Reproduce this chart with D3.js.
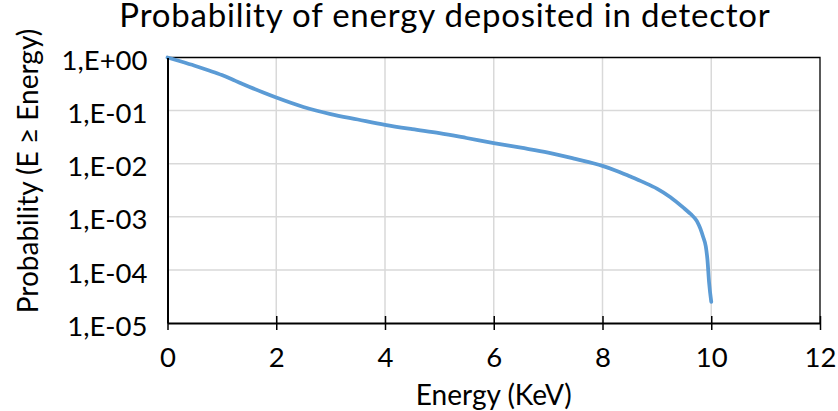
<!DOCTYPE html>
<html>
<head>
<meta charset="utf-8">
<script src="https://cdn.jsdelivr.net/npm/d3@7"></script>
<style>
	body { margin: 0; background: #fff; }
	text { font-family: Lato, "Open Sans", sans-serif; fill: #000; }
	.grid line { stroke: #d9d9d9; stroke-width: 1.5; }
</style>
</head>
<body>
<div id="chart"></div>
<script>
// data
const energy = [0, 0.25, 0.5, 0.75, 1, 1.25, 1.5, 1.75, 2, 2.5, 3, 3.5, 4, 4.5, 5, 5.5, 6, 6.5, 7, 7.5,
	8, 8.25, 8.5, 8.75, 9, 9.25, 9.5, 9.6, 9.65, 9.7, 9.75, 9.8, 9.85, 9.9, 9.93, 9.96, 10];
const prob = [1, 0.84, 0.70, 0.575, 0.468, 0.363, 0.282, 0.221, 0.176, 0.117, 0.086, 0.068, 0.054, 0.0447, 0.0376, 0.0305, 0.0245, 0.0200, 0.0162, 0.0123,
	0.0091, 0.0074, 0.0058, 0.0045, 0.0034, 0.00234, 0.00145, 0.00118, 0.00106, 0.00093, 0.00078, 0.0006, 0.00042, 0.000275, 0.000155, 0.000058, 0.000025];
const xTicks = [0, 2, 4, 6, 8, 10, 12];
const yTicks = [1, 1e-1, 1e-2, 1e-3, 1e-4, 1e-5];

const width  = 838
	, height = 411
	, margin = { top: 57.5, left: 167.5, right: 18, bottom: 88 };

const svg = d3.select("#chart")
	.append("svg")
		.attr("width", width)
		.attr("height", height);

const x = d3.scaleLinear()
	.domain([0, 12])
	.range([margin.left, width - margin.right]);
const y = d3.scaleLog()
	.domain([1e-5, 1])
	.range([height - margin.bottom, margin.top]);

function sci(v) {
	const e = Math.round(Math.log10(v));
	return "1,E" + (e < 0 ? "-" : "+") + String(Math.abs(e)).padStart(2, "0");
}

// grid
const grid = svg.append("g").attr("class", "grid");
grid.selectAll(".gx")
	.data(xTicks.slice(1, -1))
	.join("line")
		.attr("x1", d => x(d)).attr("x2", d => x(d))
		.attr("y1", y(1)).attr("y2", y(1e-5));
grid.selectAll(".gy")
	.data(yTicks.slice(1, -1))
	.join("line")
		.attr("x1", x(0)).attr("x2", x(12))
		.attr("y1", d => y(d)).attr("y2", d => y(d));

// plot border (top and right)
svg.append("path")
	.attr("d", "M" + x(0) + "," + y(1) + "H" + x(12) + "V" + y(1e-5))
	.attr("fill", "none")
	.attr("stroke", "#000")
	.attr("stroke-width", 1.3);

// curve
const line = d3.line()
	.x((d, i) => x(energy[i]))
	.y(d => y(d))
	.curve(d3.curveMonotoneX);
svg.append("path")
	.datum(prob)
	.attr("d", line)
	.attr("fill", "none")
	.attr("stroke", "#5b9bd5")
	.attr("stroke-width", 3.75)
	.attr("stroke-linecap", "round")
	.attr("stroke-linejoin", "round");

// x axis: major ticks cross the line, minor ticks inside
const xAxis = svg.append("g")
	.attr("transform", "translate(0," + y(1e-5) + ")");
xAxis.call(d3.axisBottom(x)
	.tickValues(d3.range(0, 12.01, 0.4).filter(v => Math.abs(v / 2 - Math.round(v / 2)) > 1e-6))
	.tickSizeInner(-6)
	.tickSizeOuter(0)
	.tickFormat(""));
xAxis.call(d3.axisBottom(x)
	.tickValues(xTicks)
	.tickSizeInner(7)
	.tickSizeOuter(0)
	.tickFormat(d3.format("d")));
xAxis.selectAll(".tick line").attr("stroke", "#000").attr("stroke-width", 1.5);
xAxis.selectAll(".domain").attr("stroke", "#000").attr("stroke-width", 2);
xAxis.selectAll(".tick").filter(d => xTicks.includes(d)).select("line").attr("y1", -7);
xAxis.selectAll("text")
	.attr("y", 44)
	.attr("dy", null)
	.attr("font-family", "Lato")
	.attr("font-size", 27.5)
	.attr("fill", "#000");

// y axis
const yAxis = svg.append("g")
	.attr("transform", "translate(" + x(0) + ",0)");
yAxis.call(d3.axisLeft(y)
	.tickValues(yTicks)
	.tickSize(0)
	.tickPadding(20)
	.tickFormat(sci));
yAxis.select(".domain").attr("stroke", "#000").attr("stroke-width", 2);
yAxis.selectAll("text")
	.attr("dy", "0.44em")
	.attr("font-family", "Lato")
	.attr("font-size", 27.5)
	.attr("fill", "#000");

// titles
svg.append("text")
	.attr("x", 445)
	.attr("y", 27)
	.attr("text-anchor", "middle")
	.attr("font-size", 33)
	.attr("letter-spacing", 0.8)
	.text("Probability of energy deposited in detector");
svg.append("text")
	.attr("x", x(6))
	.attr("y", 405)
	.attr("text-anchor", "middle")
	.attr("font-size", 28)
	.text("Energy (KeV)");
svg.append("text")
	.attr("transform", "translate(38,171) rotate(-90)")
	.attr("text-anchor", "middle")
	.attr("font-size", 28)
	.text("Probability (E ≥ Energy)");
</script>
</body>
</html>
